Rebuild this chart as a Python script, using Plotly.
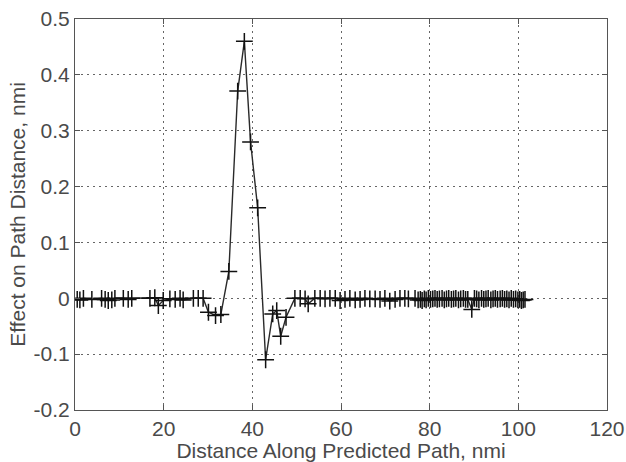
import plotly.graph_objects as go

# Distance along predicted path (nmi)
dist = [0.5, 1.1, 1.9, 3.8, 6.0, 6.8, 7.5, 8.3, 9.0, 10.9, 12.0, 12.8, 16.9, 18.0, 18.8,
        19.9, 21.4, 22.6, 23.7, 24.4, 26.7, 27.8, 28.9, 30.1, 31.7, 32.9, 34.7, 36.7,
        38.2, 39.6, 41.2, 43.0, 44.6, 45.5, 46.4, 47.6, 49.6, 50.8, 51.9, 52.6, 54.1,
        55.3, 56.4, 57.5, 58.7, 59.8, 60.9, 62.0, 63.2, 64.3, 65.4, 66.5, 67.7, 68.8,
        69.9, 71.0, 72.2, 73.3, 74.4, 75.2, 76.7, 77.4, 77.9, 78.3, 78.8, 79.2, 79.7,
        80.2, 80.7, 81.2, 81.7, 82.2, 82.8, 83.3, 83.8, 84.3, 84.9, 85.4, 85.9, 86.5,
        87.0, 87.6, 88.1, 88.6, 89.5, 90.1, 90.6, 91.1, 91.7, 92.2, 92.7, 93.2, 93.8,
        94.3, 94.8, 95.3, 95.9, 96.4, 96.9, 97.4, 97.9, 98.4, 98.9, 99.4, 99.9, 100.3,
        100.7, 101.1, 101.5]

# Effect on path distance (nmi)
effect = [-0.002, -0.003, 0.000, -0.002, 0.000, -0.002, -0.004, -0.003, 0.000, 0.000,
          -0.002, 0.000, 0.000, 0.001, -0.013, -0.004, -0.001, -0.002, 0.000, -0.003,
          0.000, 0.000, 0.000, -0.025, -0.031, -0.029, 0.048, 0.371, 0.460, 0.280,
          0.162, -0.110, -0.028, -0.022, -0.068, -0.034, 0.000, 0.000, -0.001, -0.010,
          0.000, 0.000, -0.001, 0.000, 0.000, -0.004, -0.002, 0.000, -0.003, -0.002,
          0.000, -0.001, -0.001, -0.002, 0.000, -0.005, -0.002, 0.000, 0.000, -0.001,
          0.000, -0.003, -0.002, -0.004, -0.001, -0.003, 0.000, -0.002, -0.001, 0.000,
          -0.002, -0.001, 0.000, -0.003, -0.001, 0.000, -0.002, -0.001, 0.000, -0.003,
          -0.001, 0.000, -0.002, -0.002, -0.020, 0.000, -0.001, -0.003, 0.000, -0.002,
          -0.001, 0.000, -0.003, -0.001, 0.000, -0.002, -0.001, 0.000, -0.002, -0.001,
          -0.003, 0.000, -0.002, -0.001, -0.003, -0.002, -0.004, -0.003, -0.002]

x_ticks = [0, 20, 40, 60, 80, 100, 120]
x_labels = ["0", "20", "40", "60", "80", "100", "120"]
y_ticks = [-0.2, -0.1, 0, 0.1, 0.2, 0.3, 0.4, 0.5]
y_labels = ["-0.2", "-0.1", "0", "0.1", "0.2", "0.3", "0.4", "0.5"]

x_title = "Distance Along Predicted Path, nmi"
y_title = "Effect on Path Distance, nmi"

FONT = "Liberation Sans, Arial"
TXT = "#4a4a4a"

fig = go.Figure()
fig.add_trace(go.Scatter(
    x=dist, y=effect, mode="lines+markers",
    line=dict(color="#2a2a2a", width=1.4),
    marker=dict(symbol="cross-thin", size=12, color="#111111",
                line=dict(color="#111111", width=1.5)),
    showlegend=False,
))

axis_common = dict(
    showline=True, linecolor="#555555", linewidth=1.2, mirror="ticks",
    ticks="inside", ticklen=5, tickcolor="#555555",
    showgrid=True, gridcolor="#666666", griddash="2px,4px", gridwidth=1,
    zeroline=False,
    tickfont=dict(family=FONT, size=21, color=TXT),
)

fig.update_layout(
    width=626, height=462,
    margin=dict(l=75, r=19, t=19, b=52),
    paper_bgcolor="white", plot_bgcolor="white",
    font=dict(family=FONT, size=21, color=TXT),
    xaxis=dict(range=[0, 120], tickvals=x_ticks, ticktext=x_labels,
               title=dict(text=x_title, standoff=3,
                          font=dict(family=FONT, size=21, color=TXT)),
               automargin=False, **axis_common),
    yaxis=dict(range=[-0.2, 0.5], tickvals=y_ticks, ticktext=y_labels,
               title=dict(text=y_title, standoff=2,
                          font=dict(family=FONT, size=21, color=TXT)),
               automargin=False, **axis_common),
)

fig.write_html("out.html")
